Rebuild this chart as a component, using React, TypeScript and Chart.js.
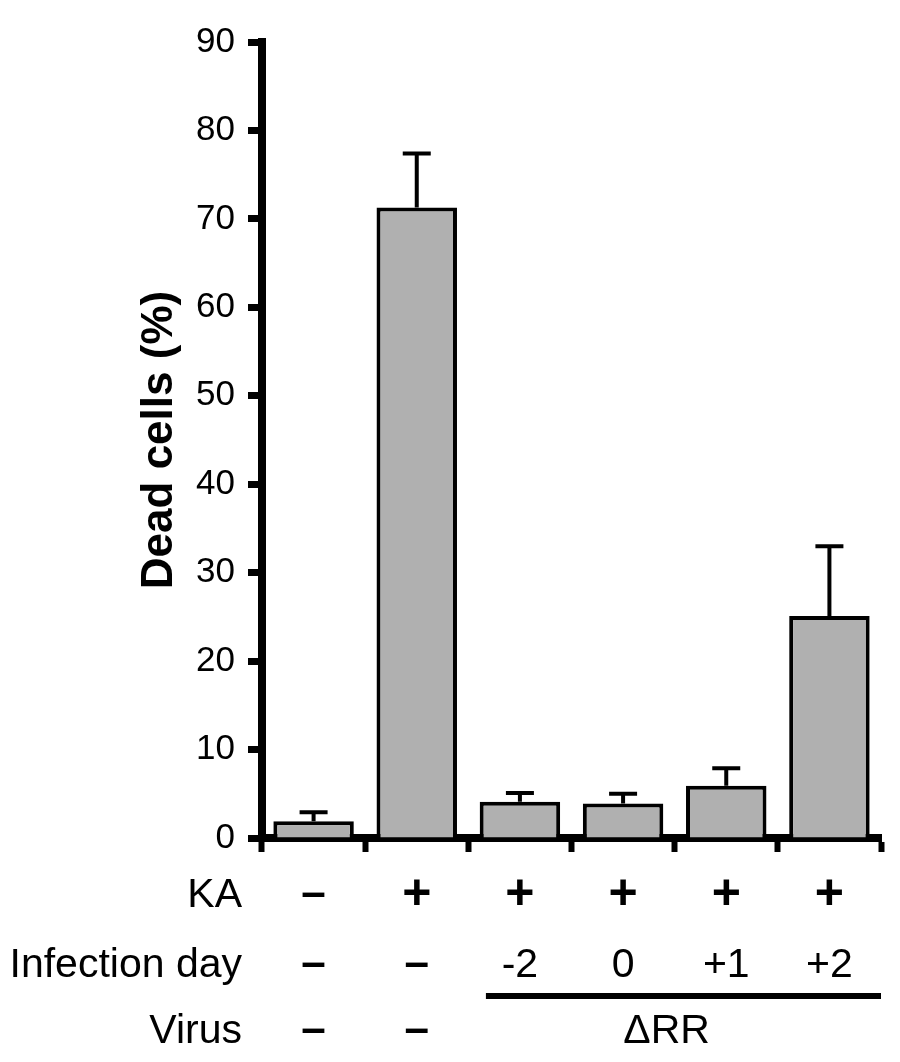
import React, { useEffect, useRef } from 'react';
import { Chart, registerables } from 'chart.js';

Chart.register(...registerables);

const categories = ['ctrl', 'KA', 'KA ΔRR -2', 'KA ΔRR 0', 'KA ΔRR +1', 'KA ΔRR +2'];
const deadCells = [1.9, 71.3, 4.1, 3.9, 5.9, 25.1];
const errorUp = [1.0, 6.1, 1.0, 1.1, 2.0, 7.9];
const yMin = 0;
const yMax = 90;
const yStep = 10;
const rowLabels = ['KA', 'Infection day', 'Virus'];
const kaRow = ['–', '+', '+', '+', '+', '+'];
const infectionDayRow = ['–', '–', '-2', '0', '+1', '+2'];
const virusRow = ['–', '–', '', '', '', ''];
const virusGroupLabel = 'ΔRR';
const virusGroupFirst = 2;
const virusGroupLast = 5;

const FONT = '"Liberation Sans", Arial, Helvetica, sans-serif';

const errorBarPlugin = {
  id: 'errorBars',
  afterDatasetsDraw(chart: any) {
    const ctx = chart.ctx;
    const meta = chart.getDatasetMeta(0);
    const yScale = chart.scales.y;
    ctx.save();
    ctx.strokeStyle = '#000';
    ctx.lineWidth = 4;
    ctx.lineCap = 'butt';
    meta.data.forEach((bar: any, i: number) => {
      const top = yScale.getPixelForValue(deadCells[i] + errorUp[i]);
      const x = bar.x;
      ctx.beginPath();
      ctx.moveTo(x, bar.y);
      ctx.lineTo(x, top);
      ctx.moveTo(x - 14, top);
      ctx.lineTo(x + 14, top);
      ctx.stroke();
    });
    ctx.restore();
  },
};

const annotationPlugin = {
  id: 'rowAnnotations',
  afterDraw(chart: any) {
    const ctx = chart.ctx;
    const area = chart.chartArea;
    const xs = chart.scales.x;
    ctx.save();
    ctx.fillStyle = '#000';

    // y-axis title
    ctx.save();
    ctx.translate(area.left - 90, (area.top + area.bottom) / 2);
    ctx.rotate(-Math.PI / 2);
    ctx.font = `bold 44px ${FONT}`;
    ctx.textAlign = 'center';
    ctx.textBaseline = 'alphabetic';
    ctx.fillText('Dead cells (%)', 0, 0);
    ctx.restore();

    const baselines = [area.bottom + 69, area.bottom + 139, area.bottom + 205];
    const rows = [kaRow, infectionDayRow, virusRow];
    ctx.textBaseline = 'alphabetic';
    rowLabels.forEach((lab, r) => {
      ctx.font = `41px ${FONT}`;
      ctx.textAlign = 'right';
      ctx.fillText(lab, area.left - 20, baselines[r]);
      rows[r].forEach((sym, i) => {
        if (!sym) return;
        ctx.textAlign = 'center';
        if (sym === '+') {
          ctx.font = `bold 50px ${FONT}`;
          ctx.fillText(sym, xs.getPixelForValue(i), baselines[r] + 2);
        } else if (sym === '–') {
          ctx.font = `bold 44px ${FONT}`;
          ctx.fillText(sym, xs.getPixelForValue(i), baselines[r]);
        } else {
          ctx.font = `41px ${FONT}`;
          ctx.fillText(sym, xs.getPixelForValue(i), baselines[r]);
        }
      });
    });

    // group line under infection day
    const lineY = area.bottom + 158;
    ctx.strokeStyle = '#000';
    ctx.lineWidth = 6;
    ctx.beginPath();
    ctx.moveTo(xs.getPixelForValue(virusGroupFirst) - 34, lineY);
    ctx.lineTo(area.right, lineY);
    ctx.stroke();

    // group label
    let sum = 0;
    for (let i = virusGroupFirst; i <= virusGroupLast; i++) sum += xs.getPixelForValue(i);
    const cx = sum / (virusGroupLast - virusGroupFirst + 1) - 8;
    ctx.font = `41px ${FONT}`;
    ctx.textAlign = 'center';
    ctx.fillText(virusGroupLabel, cx, baselines[2]);

    ctx.restore();
  },
};

export default function App() {
  const ref = useRef<HTMLCanvasElement>(null);
  useEffect(() => {
    Chart.defaults.color = '#000';
    const chart = new Chart(ref.current as HTMLCanvasElement, {
      type: 'bar',
      data: {
        labels: categories,
        datasets: [
          {
            data: deadCells,
            backgroundColor: '#b0b0b0',
            borderColor: '#000',
            borderWidth: 4,
            barPercentage: 0.78,
            categoryPercentage: 1,
          },
        ],
      },
      options: {
        animation: false,
        responsive: false,
        devicePixelRatio: 1,
        layout: { padding: { top: 23, right: 11, left: 0, bottom: 0 } },
        plugins: {
          legend: { display: false },
          tooltip: { enabled: false },
          title: { display: false },
        },
        scales: {
          x: {
            type: 'category',
            offset: true,
            grid: {
              offset: true,
              drawOnChartArea: false,
              drawTicks: true,
              tickLength: 14,
              tickWidth: 6,
              tickColor: '#000',
            },
            border: { display: true, width: 8, color: '#000' },
            ticks: { display: false },
            afterFit: (scale: any) => {
              scale.height = 216;
            },
          },
          y: {
            min: yMin,
            max: yMax,
            grid: {
              drawOnChartArea: false,
              drawTicks: true,
              tickLength: 14,
              tickWidth: 7,
              tickColor: '#000',
            },
            border: { display: true, width: 8, color: '#000' },
            ticks: {
              stepSize: yStep,
              padding: 13,
              color: '#000',
              font: { family: FONT, size: 35 },
            },
            afterFit: (scale: any) => {
              scale.width = 254;
            },
          },
        },
      },
      plugins: [errorBarPlugin, annotationPlugin],
    });
    return () => chart.destroy();
  }, []);
  return <canvas ref={ref} width={884} height={1046} style={{ display: 'block' }} />;
}
